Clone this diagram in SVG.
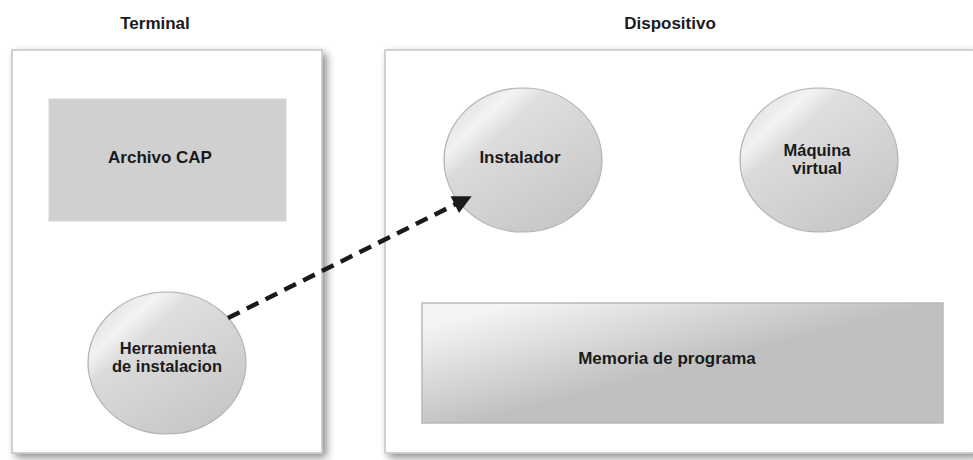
<svg xmlns="http://www.w3.org/2000/svg" width="973" height="460" viewBox="0 0 973 460">
  <defs>
    <style>
      text { font-family: "Liberation Sans", Arial, sans-serif; font-weight: bold; font-size: 17px; fill: #1a1a1a; text-anchor: middle; }
      .two { font-size: 16.5px; }
      .frame { fill: #ffffff; stroke: #c4c4c4; stroke-width: 1.5; filter: url(#shadow); }
      .ball { fill: url(#ballFill); stroke: #b4b4b4; stroke-width: 1.2; }
      .gloss { fill: url(#glossFill); }
      .flat { fill: #d0d0d0; stroke: #d6d6d6; stroke-width: 1; }
      .fade { fill: url(#fadeFill); stroke: #b8b8b8; stroke-width: 1.5; }
      .link { fill: none; stroke: #1a1a1a; stroke-width: 4.5; stroke-dasharray: 13 8; }
    </style>
    <filter id="shadow" x="-5%" y="-5%" width="112%" height="112%">
      <feGaussianBlur in="SourceAlpha" stdDeviation="4"/>
      <feOffset dx="4" dy="4" result="blur"/>
      <feComponentTransfer><feFuncA type="linear" slope="0.45"/></feComponentTransfer>
      <feMerge><feMergeNode/><feMergeNode in="SourceGraphic"/></feMerge>
    </filter>
    <linearGradient id="ballFill" x1="0.2" y1="0.05" x2="0.8" y2="0.95">
      <stop offset="0" stop-color="#e6e6e6"/>
      <stop offset="0.5" stop-color="#d6d6d6"/>
      <stop offset="1" stop-color="#c6c6c6"/>
    </linearGradient>
    <!-- soft diagonal highlight across the upper-left of each sphere -->
    <linearGradient id="glossFill" x1="0" y1="0" x2="0.6" y2="0.6">
      <stop offset="0.2" stop-color="#ffffff" stop-opacity="0"/>
      <stop offset="0.38" stop-color="#ffffff" stop-opacity="0.6"/>
      <stop offset="0.55" stop-color="#ffffff" stop-opacity="0"/>
    </linearGradient>
    <linearGradient id="fadeFill" x1="0" y1="0.2" x2="0.45" y2="0.6">
      <stop offset="0" stop-color="#f4f4f4"/>
      <stop offset="1" stop-color="#c0c0c0"/>
    </linearGradient>
    <marker id="head" viewBox="0 0 10 10" refX="9" refY="5" markerWidth="6.2" markerHeight="4.2" markerUnits="strokeWidth" orient="auto">
      <path d="M0,0 L10,5 L0,10 Z" fill="#1a1a1a"/>
    </marker>
  </defs>

  <!-- host side -->
  <g id="terminal">
    <rect class="frame" x="12" y="50" width="310" height="403"/>
    <text x="155" y="29">Terminal</text>
  </g>

  <!-- target side -->
  <g id="dispositivo">
    <rect class="frame" x="385" y="50" width="590" height="403"/>
    <text x="670" y="29">Dispositivo</text>
  </g>

  <g id="archivo-cap">
    <rect class="flat" x="49" y="99" width="237" height="122"/>
    <text x="160" y="163">Archivo CAP</text>
  </g>

  <g id="herramienta">
    <ellipse class="ball" cx="167" cy="363" rx="79" ry="71"/>
    <ellipse class="gloss" cx="167" cy="363" rx="78" ry="70"/>
    <text class="two" x="168" y="354">Herramienta</text>
    <text class="two" x="167" y="372">de instalacion</text>
  </g>

  <g id="instalador">
    <ellipse class="ball" cx="523" cy="160" rx="79" ry="72"/>
    <ellipse class="gloss" cx="523" cy="160" rx="78" ry="71"/>
    <text x="520" y="163">Instalador</text>
  </g>

  <g id="maquina-virtual">
    <ellipse class="ball" cx="819" cy="160" rx="79" ry="72"/>
    <ellipse class="gloss" cx="819" cy="160" rx="78" ry="71"/>
    <text class="two" x="817" y="156">Máquina</text>
    <text class="two" x="817" y="174">virtual</text>
  </g>

  <g id="memoria">
    <rect class="fade" x="422" y="303" width="521" height="120"/>
    <text x="667" y="364">Memoria de programa</text>
  </g>

  <!-- download path from the host tool to the on-card installer -->
  <g id="connectors">
    <line class="link" x1="228" y1="318" x2="470" y2="197" marker-end="url(#head)"/>
  </g>
</svg>
